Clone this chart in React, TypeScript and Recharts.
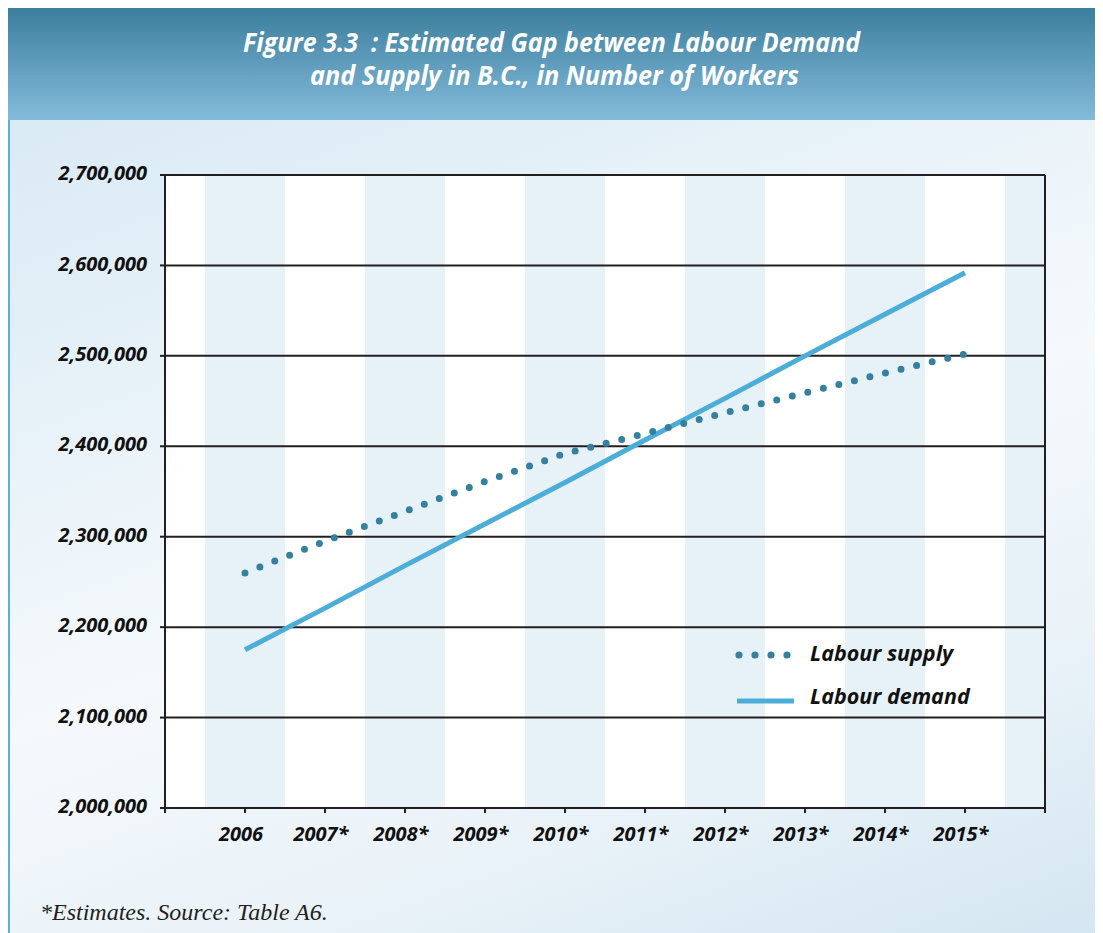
import { LineChart, Line, XAxis, YAxis, CartesianGrid, Legend } from 'recharts';

const years = [2006, 2007, 2008, 2009, 2010, 2011, 2012, 2013, 2014, 2015];
const yearLabels = ['2006', '2007*', '2008*', '2009*', '2010*', '2011*', '2012*', '2013*', '2014*', '2015*'];
const labourSupply = [2260000, 2295000, 2328000, 2361000, 2392000, 2414000, 2437000, 2459000, 2481000, 2502000];
const labourDemand = [2175000, 2221000, 2268000, 2314000, 2360000, 2407000, 2453000, 2500000, 2546000, 2592000];
const seriesNames = ['Labour supply', 'Labour demand'];
const yTicks = [2000000, 2100000, 2200000, 2300000, 2400000, 2500000, 2600000, 2700000];
const xTicks = [2005, 2006, 2007, 2008, 2009, 2010, 2011, 2012, 2013, 2014, 2015, 2016];
const shadedYears = [2006, 2008, 2010, 2012, 2014, 2016];

const X_MIN = 2005;
const X_MAX = 2016;
const SUPPLY_COLOR = '#35809f';
const DEMAND_COLOR = '#4cadd8';
const INK = '#231f20';
const BAND = '#e6f1f8';

const data = years.map((year, i) => ({
  year,
  supply: labourSupply[i],
  demand: labourDemand[i],
}));

const bandEdges = shadedYears.flatMap((y) => [y - 0.5, y + 0.5]).filter((v) => v > X_MIN && v < X_MAX);

const fmtYear = (v: number) => {
  const i = years.indexOf(v);
  return i >= 0 ? yearLabels[i] : '';
};

const fmtNum = (v: number) => v.toLocaleString('en-US');

const tickFont = {
  fontFamily: '"Open Sans", sans-serif',
  fontWeight: 700,
  fontStyle: 'italic' as const,
  fontSize: 20,
  fill: '#111',
};

function LegendBox() {
  const textStyle = {
    fontFamily: '"Open Sans", sans-serif',
    fontWeight: 700,
    fontStyle: 'italic' as const,
    fontSize: 21.5,
    fill: '#111',
  };
  return (
    <svg width={300} height={90} style={{ display: 'block', overflow: 'visible' }}>
      {[9, 25, 41, 57].map((cx) => (
        <circle key={cx} cx={cx} cy={15} r={3.6} fill={SUPPLY_COLOR} />
      ))}
      <text x={80} y={21} style={textStyle}>{seriesNames[0]}</text>
      <line x1={7} x2={64} y1={61} y2={61} stroke={DEMAND_COLOR} strokeWidth={5} />
      <text x={80} y={64} style={textStyle}>{seriesNames[1]}</text>
    </svg>
  );
}

export default function App() {
  return (
    <div
      style={{
        position: 'relative',
        width: 1095,
        height: 925,
        overflow: 'hidden',
        background: 'linear-gradient(160deg, #d5e7f3 0%, #e6f1f8 30%, #f5f9fc 55%, #e9f2f8 78%, #d4e6f2 100%)',
      }}
    >
      <div
        style={{
          position: 'absolute',
          left: 0,
          top: 0,
          width: 1095,
          height: 112,
          background: 'linear-gradient(180deg, #3c7e9d 0%, #84bbdb 100%)',
        }}
      >
        <svg width={1095} height={112} style={{ display: 'block' }}>
          <g
            style={{
              fontFamily: '"Open Sans", sans-serif',
              fontWeight: 700,
              fontStyle: 'italic',
              fontSize: 26,
              fill: '#fff',
            }}
          >
            <text x={543.5} y={44} textAnchor="middle" textLength={617} lengthAdjust="spacingAndGlyphs">
              {'Figure 3.3\u00a0 : Estimated Gap between Labour Demand'}
            </text>
            <text x={546.5} y={77} textAnchor="middle" textLength={489} lengthAdjust="spacingAndGlyphs">
              and Supply in B.C., in Number of Workers
            </text>
          </g>
        </svg>
      </div>
      <div style={{ position: 'absolute', left: 0, top: 112, width: 2, height: 813, background: '#5eaedb' }} />

      <div style={{ position: 'absolute', left: 0, top: 122 }}>
        <LineChart width={1095} height={740} data={data} margin={{ top: 45, right: 58, bottom: 22, left: 0 }}>
          <CartesianGrid
            fill="#fff"
            stroke="none"
            horizontal={false}
            verticalValues={bandEdges}
            verticalFill={['transparent', BAND]}
          />
          <CartesianGrid
            stroke={INK}
            strokeWidth={2}
            strokeDasharray=""
            verticalValues={[X_MIN, X_MAX]}
          />
          <XAxis
            dataKey="year"
            type="number"
            domain={[X_MIN, X_MAX]}
            ticks={xTicks}
            interval={0}
            tickFormatter={fmtYear}
            height={40}
            tickSize={5}
            tickMargin={14}
            axisLine={{ stroke: INK, strokeWidth: 2 }}
            tickLine={{ stroke: INK, strokeWidth: 2 }}
            tick={{ ...tickFont, dx: -4 }}
          />
          <YAxis
            type="number"
            domain={[2000000, 2700000]}
            ticks={yTicks}
            interval={0}
            tickFormatter={fmtNum}
            width={157}
            tickSize={5}
            tickMargin={13}
            axisLine={{ stroke: INK, strokeWidth: 2 }}
            tickLine={{ stroke: INK, strokeWidth: 2 }}
            tick={{ ...tickFont, dy: -2 }}
          />
          <Line
            dataKey="demand"
            name={seriesNames[1]}
            stroke={DEMAND_COLOR}
            strokeWidth={5}
            dot={false}
            activeDot={false}
            isAnimationActive={false}
          />
          <Line
            dataKey="supply"
            name={seriesNames[0]}
            stroke={SUPPLY_COLOR}
            strokeWidth={7}
            strokeDasharray="0 16"
            strokeLinecap="round"
            dot={false}
            activeDot={false}
            isAnimationActive={false}
          />
          <Legend
            layout="horizontal"
            verticalAlign="middle"
            align="center"
            content={() => <LegendBox />}
            wrapperStyle={{ position: 'absolute', left: 722, top: 510, width: 300, height: 90 }}
          />
        </LineChart>
      </div>

      <div
        style={{
          position: 'absolute',
          left: 32,
          top: 891,
          fontFamily: '"Liberation Serif", "Times New Roman", serif',
          fontStyle: 'italic',
          fontSize: 24,
          color: INK,
          whiteSpace: 'nowrap',
        }}
      >
        *Estimates. Source: Table A6.
      </div>
    </div>
  );
}
